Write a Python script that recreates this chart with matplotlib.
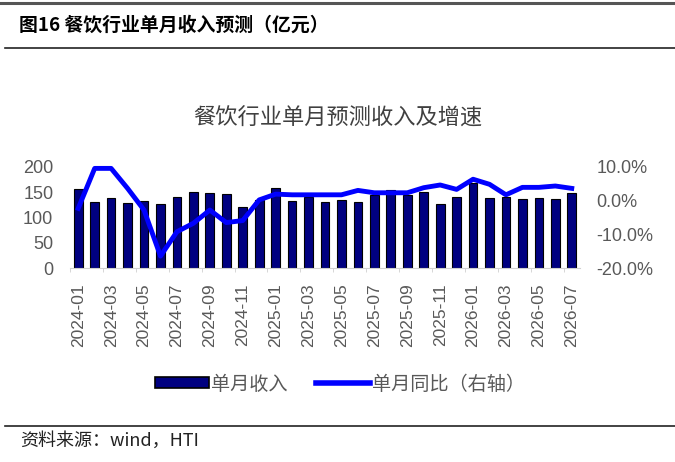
import matplotlib
matplotlib.use("Agg")
import matplotlib.pyplot as plt
from matplotlib.lines import Line2D
from matplotlib.patches import Patch
import numpy as np

plt.rcParams['font.family'] = ['Noto Sans CJK SC', 'DejaVu Sans']

# 月份
months = ['2024-01', '2024-02', '2024-03', '2024-04', '2024-05', '2024-06',
          '2024-07', '2024-08', '2024-09', '2024-10', '2024-11', '2024-12',
          '2025-01', '2025-02', '2025-03', '2025-04', '2025-05', '2025-06',
          '2025-07', '2025-08', '2025-09', '2025-10', '2025-11', '2025-12',
          '2026-01', '2026-02', '2026-03', '2026-04', '2026-05', '2026-06',
          '2026-07']
# 单月收入（亿元）
revenue = [155.5, 130.5, 138.4, 129, 132.5, 127, 140.4, 150.8, 148.8, 146.2,
           120, 135, 158.7, 132.5, 141, 130.5, 134.4, 131, 145, 154,
           144, 150.8, 126, 141, 167, 139, 141, 135.8, 139, 135.8, 148.8]
# 单月同比（%）
yoy = [-2.3, 9.5, 9.5, 3.6, -2.8, -16.4, -9.2, -6.7, -2.8, -6.5,
       -5.9, 0.2, 1.9, 1.7, 1.7, 1.7, 1.7, 3.0, 2.3, 2.3,
       2.3, 3.8, 4.6, 3.3, 6.3, 4.8, 1.7, 3.9, 3.9, 4.3, 3.6]

W, H = 675, 462
fig = plt.figure(figsize=(W / 100, H / 100), dpi=100)

# 页眉线和标题
fig.add_artist(Line2D([0, 1], [1 - 3 / H, 1 - 3 / H], color='#555555', lw=2.2))
fig.add_artist(Line2D([5 / W, 1], [1 - 48 / H, 1 - 48 / H], color='#222222', lw=1.2))
fig.add_artist(Line2D([5 / W, 1], [1 - 426 / H, 1 - 426 / H], color='#222222', lw=1.2))
fig.text(19 / W, 1 - 25 / H, '图16 餐饮行业单月收入预测（亿元）', fontsize=13.6,
         fontweight='bold', va='center', ha='left', color='black')
fig.text(20 / W, 1 - 441 / H, '资料来源：wind，HTI', fontsize=13,
         va='center', ha='left', color='#222222')
fig.text(338 / W, 1 - 118 / H, '餐饮行业单月预测收入及增速', fontsize=16,
         va='center', ha='center', color='#404040')

left, right = 70 / W, 580 / W
top, bottom = 1 - 166.7 / H, 1 - 268.3 / H
ax = fig.add_axes([left, bottom, right - left, top - bottom])
x = np.arange(len(months))
ax.bar(x, revenue, width=0.53, color='#000080', edgecolor='black', lw=0.8, zorder=2)
ax.set_xlim(-0.5, len(months) - 0.5)
ax.set_ylim(0, 200)
ax.set_yticks([0, 50, 100, 150, 200])
ax.set_xticks(x[::2])
ax.set_xticklabels(months[::2], rotation=90)
ax.set_xticks(np.arange(-0.5, len(months), 2), minor=True)
for s in ['top', 'left', 'right']:
    ax.spines[s].set_visible(False)
ax.spines['bottom'].set_color('#d0d0d0')
ax.tick_params(axis='x', which='major', length=0, pad=11, labelsize=12.5,
               labelcolor='#595959')
ax.tick_params(axis='x', which='minor', length=3, color='#d0d0d0')
ax.tick_params(axis='y', length=0, pad=12, labelsize=13, labelcolor='#595959')
for lab in ax.get_xticklabels() + ax.get_yticklabels():
    lab.set_family('Liberation Sans')

ax2 = ax.twinx()
ax2.plot(x, yoy, color='#0000ff', lw=3.5, solid_joinstyle='round', clip_on=False, zorder=3)
ax2.set_ylim(-20, 10)
ax2.set_yticks([-20, -10, 0, 10])
ax2.set_yticklabels(['%.1f%%' % v for v in [-20, -10, 0, 10]])
for s in ['top', 'left', 'right', 'bottom']:
    ax2.spines[s].set_visible(False)
ax2.tick_params(axis='y', length=0, pad=12, labelsize=13, labelcolor='#595959')
for lab in ax2.get_yticklabels():
    lab.set_family('Liberation Sans')

handles = [Patch(facecolor='#000080', edgecolor='black', lw=1.2),
           Line2D([], [], color='#0000ff', lw=4)]
leg = fig.legend(handles, ['单月收入', '单月同比（右轴）'], loc='center',
                 bbox_to_anchor=(340 / W, 1 - 384 / H), ncol=2, frameon=False,
                 fontsize=13.8, handlelength=2.8, handleheight=0.5,
                 handletextpad=0.1, columnspacing=1.5)
for t in leg.get_texts():
    t.set_color('#595959')

fig.savefig('out.png', dpi=100)
